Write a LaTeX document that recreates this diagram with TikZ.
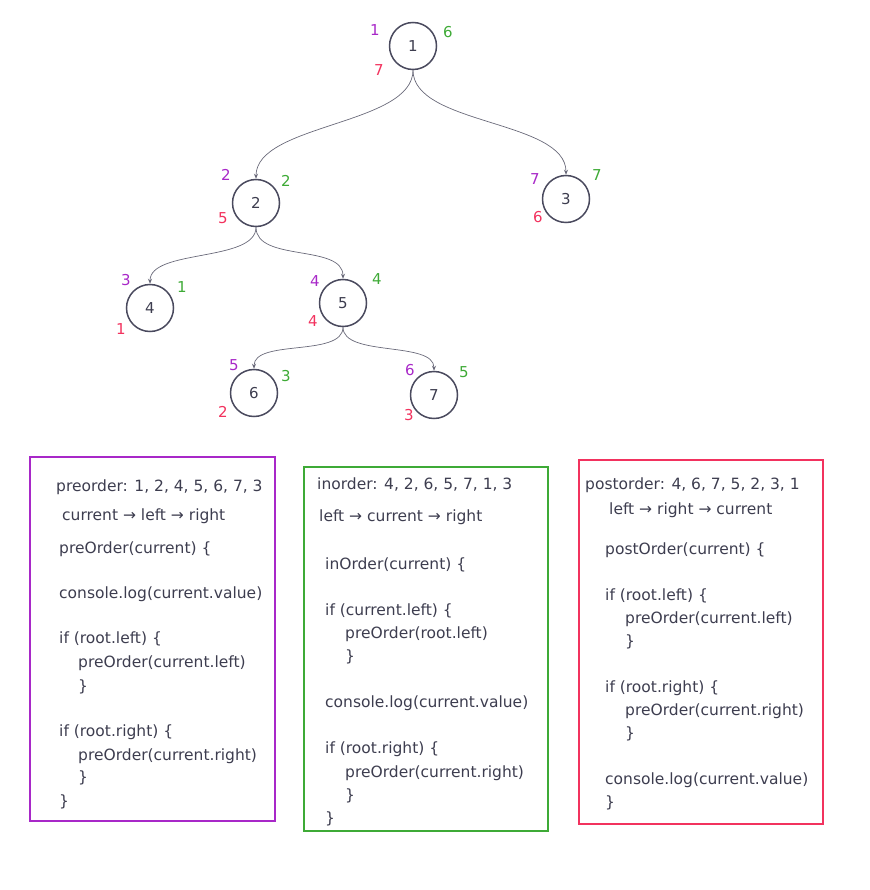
\documentclass[tikz,border=0pt]{standalone}
\usepackage{fontspec}
\setmainfont{DejaVu Sans}
\usetikzlibrary{arrows.meta}
\definecolor{txt}{HTML}{3D3D4F}
\definecolor{circ}{HTML}{4A4A5E}
\definecolor{edgec}{HTML}{6A6A7A}
\definecolor{pur}{HTML}{A828C8}
\definecolor{grn}{HTML}{3EAA36}
\definecolor{rd}{HTML}{F2325E}
\tikzset{
  tnode/.style={circle,draw=circ,line width=1.5pt,minimum size=47pt,inner sep=0pt,text=txt,font=\fontsize{15}{15}\selectfont},
  edge/.style={draw=edgec,line width=0.7pt,-{Stealth[length=5pt,width=4pt]}},
  lab/.style={font=\fontsize{15}{15}\selectfont,inner sep=0pt},
  lp/.style={lab,text=pur},
  lg/.style={lab,text=grn},
  lr/.style={lab,text=rd},
  code/.style={anchor=base west,inner sep=0pt,text=txt,font=\fontsize{15.5}{15.5}\selectfont},
  box/.style={draw,line width=1.3pt}
}
\begin{document}
\begin{tikzpicture}[x=1pt,y=-1pt]
\useasboundingbox (0,0) rectangle (869,890);
% tree nodes
\node[tnode] (n1) at (413,46) {1};
\node[tnode] (n2) at (256,203) {2};
\node[tnode] (n3) at (566,199) {3};
\node[tnode] (n4) at (150,308) {4};
\node[tnode] (n5) at (343,303) {5};
\node[tnode] (n6) at (254,393) {6};
\node[tnode] (n7) at (434,395) {7};
% edges
\draw[edge] (n1.south) .. controls +(0,55) and +(0,-55) .. (n2.north);
\draw[edge] (n1.south) .. controls +(0,55) and +(0,-55) .. (n3.north);
\draw[edge] (n2.south) .. controls +(0,35) and +(0,-35) .. (n4.north);
\draw[edge] (n2.south) .. controls +(0,35) and +(0,-35) .. (n5.north);
\draw[edge] (n5.south) .. controls +(0,30) and +(0,-30) .. (n6.north);
\draw[edge] (n5.south) .. controls +(0,30) and +(0,-30) .. (n7.north);
% labels
\node[lp] (p1) at (375,30) {1};
\node[lg] (g1) at (448,32) {6};
\node[lr] (r1) at (379,70) {7};
\node[lp] (p2) at (226,175) {2};
\node[lg] (g2) at (286,181) {2};
\node[lr] (r2) at (223,218) {5};
\node[lp] (p3) at (535,179) {7};
\node[lg] (g3) at (597,175) {7};
\node[lr] (r3) at (538,217) {6};
\node[lp] (p4) at (126,280) {3};
\node[lg] (g4) at (182,287) {1};
\node[lr] (r4) at (121,329) {1};
\node[lp] (p5) at (315,281) {4};
\node[lg] (g5) at (377,279) {4};
\node[lr] (r5) at (313,321) {4};
\node[lp] (p6) at (234,365) {5};
\node[lg] (g6) at (286,376) {3};
\node[lr] (r6) at (223,412) {2};
\node[lp] (p7) at (410,370) {6};
\node[lg] (g7) at (464,372) {5};
\node[lr] (r7) at (409,415) {3};
% boxes
\draw[box,draw=pur] (30,457) rectangle (275,821);
\draw[box,draw=grn] (304,467) rectangle (548,831);
\draw[box,draw=rd] (579,460) rectangle (823,824);
% preorder
\node[code] (a1) at (56,491) {preorder: 1, 2, 4, 5, 6, 7, 3};
\node[code] (a2) at (62,520) {current → left → right};
\node[code] (a3) at (59,553) {preOrder(current) \{};
\node[code] (a4) at (59,598) {console.log(current.value)};
\node[code] (a5) at (59,643) {if (root.left) \{};
\node[code] (a6) at (78,667) {preOrder(current.left)};
\node[code] (a7) at (78,691) {\}};
\node[code] (a8) at (59,736) {if (root.right) \{};
\node[code] (a9) at (78,760) {preOrder(current.right)};
\node[code] (a10) at (78,782) {\}};
\node[code] (a11) at (59,806) {\}};
% inorder
\node[code] (b1) at (317,489) {inorder: 4, 2, 6, 5, 7, 1, 3};
\node[code] (b2) at (319,521) {left → current → right};
\node[code] (b3) at (325,569) {inOrder(current) \{};
\node[code] (b4) at (325,615) {if (current.left) \{};
\node[code] (b5) at (345,638) {preOrder(root.left)};
\node[code] (b6) at (345,661) {\}};
\node[code] (b7) at (325,707) {console.log(current.value)};
\node[code] (b8) at (325,753) {if (root.right) \{};
\node[code] (b9) at (345,777) {preOrder(current.right)};
\node[code] (b10) at (345,800) {\}};
\node[code] (b11) at (325,823) {\}};
% postorder
\node[code] (c1) at (585,489) {postorder: 4, 6, 7, 5, 2, 3, 1};
\node[code] (c2) at (609,514) {left → right → current};
\node[code] (c3) at (605,554) {postOrder(current) \{};
\node[code] (c4) at (605,600) {if (root.left) \{};
\node[code] (c5) at (625,623) {preOrder(current.left)};
\node[code] (c6) at (625,646) {\}};
\node[code] (c7) at (605,692) {if (root.right) \{};
\node[code] (c8) at (625,715) {preOrder(current.right)};
\node[code] (c9) at (625,738) {\}};
\node[code] (c10) at (605,784) {console.log(current.value)};
\node[code] (c11) at (605,807) {\}};
\end{tikzpicture}
\end{document}
